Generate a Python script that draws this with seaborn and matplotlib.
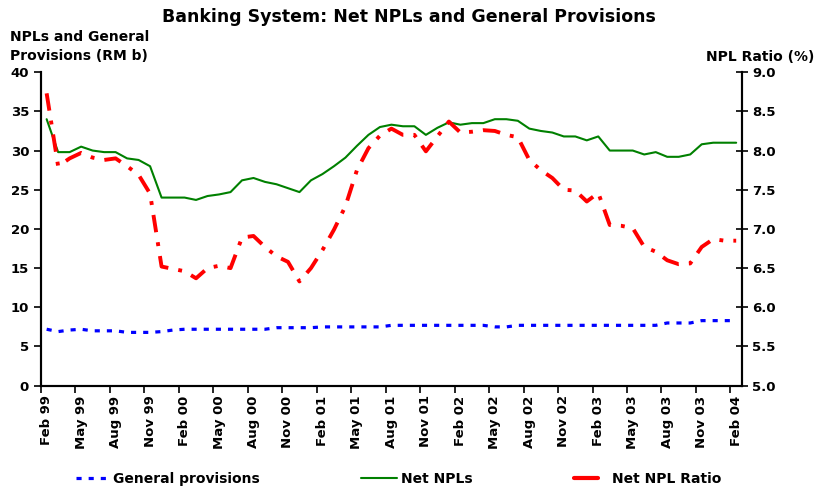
import numpy as np
import pandas as pd
import matplotlib
matplotlib.use("Agg")
import matplotlib.pyplot as plt
import seaborn as sns
from matplotlib.lines import Line2D

# 61 monthly categories Feb 99 .. Feb 04
tick_labels = ["Feb 99", "May 99", "Aug 99", "Nov 99", "Feb 00", "May 00", "Aug 00", "Nov 00",
               "Feb 01", "May 01", "Aug 01", "Nov 01", "Feb 02", "May 02", "Aug 02", "Nov 02",
               "Feb 03", "May 03", "Aug 03", "Nov 03", "Feb 04"]

net_npls = [34.0, 29.8, 29.8, 30.5, 30.0, 29.8, 29.8, 29.0, 28.8, 28.0,
            24.0, 24.0, 24.0, 23.7, 24.2, 24.4, 24.7, 26.2, 26.5, 26.0,
            25.7, 25.2, 24.7, 26.2, 27.0, 28.0, 29.1, 30.6, 32.0, 33.0,
            33.3, 33.1, 33.1, 32.0, 32.9, 33.6, 33.3, 33.5, 33.5, 34.0,
            34.0, 33.8, 32.8, 32.5, 32.3, 31.8, 31.8, 31.3, 31.8, 30.0,
            30.0, 30.0, 29.5, 29.8, 29.2, 29.2, 29.5, 30.8, 31.0, 31.0,
            31.0]

general_prov = [7.2, 6.9, 7.1, 7.2, 7.0, 7.0, 7.0, 6.8, 6.8, 6.8,
                6.9, 7.1, 7.2, 7.2, 7.2, 7.2, 7.2, 7.2, 7.2, 7.2,
                7.4, 7.4, 7.4, 7.4, 7.5, 7.5, 7.5, 7.5, 7.5, 7.5,
                7.7, 7.7, 7.7, 7.7, 7.7, 7.7, 7.7, 7.7, 7.7, 7.5,
                7.5, 7.7, 7.7, 7.7, 7.7, 7.7, 7.7, 7.7, 7.7, 7.7,
                7.7, 7.7, 7.7, 7.7, 8.0, 8.0, 8.0, 8.3, 8.3, 8.3,
                8.3]

npl_ratio = [8.73, 7.80, 7.90, 7.97, 7.91, 7.88, 7.90, 7.80, 7.69, 7.45,
             6.52, 6.49, 6.46, 6.37, 6.50, 6.53, 6.50, 6.89, 6.91, 6.77,
             6.65, 6.58, 6.33, 6.50, 6.73, 6.99, 7.29, 7.75, 8.03, 8.19,
             8.28, 8.20, 8.20, 7.99, 8.18, 8.37, 8.23, 8.24, 8.26, 8.25,
             8.20, 8.17, 7.88, 7.75, 7.65, 7.50, 7.49, 7.35, 7.46, 7.05,
             7.04, 7.01, 6.77, 6.71, 6.60, 6.55, 6.56, 6.77, 6.87, 6.85,
             6.85]

idx = np.arange(len(net_npls))
df = pd.DataFrame({"i": idx, "npl": net_npls, "gp": general_prov, "ratio": npl_ratio})

sns.set_style("white")
plt.rcParams["font.family"] = ["DejaVu Sans"]
plt.rcParams["font.weight"] = "bold"
for k in ("text.color", "axes.labelcolor", "xtick.color", "ytick.color"):
    plt.rcParams[k] = "black"

BLUE_LS = (0, (1.6, 2.2))
RED_LS = (0, (4.5, 2.6, 1.0, 2.6))

fig = plt.figure(figsize=(8.18, 4.91), dpi=100)
ax = fig.add_axes([0.050, 0.2145, 0.857, 0.6385])
ax2 = ax.twinx()

sns.lineplot(data=df, x="i", y="gp", ax=ax, color="#0000FF", linewidth=2.3,
             linestyle=BLUE_LS, dash_capstyle="butt")
sns.lineplot(data=df, x="i", y="npl", ax=ax, color="#008000", linewidth=1.5)
sns.lineplot(data=df, x="i", y="ratio", ax=ax2, color="#FF0000", linewidth=2.8,
             linestyle=RED_LS, dash_capstyle="butt")

ax.set_xlim(-0.5, 60.5)
ax.set_ylim(0, 40)
ax2.set_ylim(5.0, 9.0)
ax.set_yticks(np.arange(0, 41, 5))
ax2.set_yticks(np.arange(5.0, 9.01, 0.5))
ax2.set_yticklabels([f"{v:.1f}" for v in np.arange(5.0, 9.01, 0.5)])

# ticks at category boundaries, labels at category centres
ax.set_xticks(np.arange(0, 61, 3) - 0.5)
ax.set_xticklabels([])
ax.set_xticks(np.arange(0, 61, 3), minor=True)
ax.set_xticklabels(tick_labels, minor=True, rotation=90, fontsize=9.5, fontweight="bold")
ax.tick_params(axis="x", which="minor", length=0, pad=7)
ax.tick_params(axis="x", which="major", direction="out", length=5, width=1.2, color="black", bottom=True)
ax.tick_params(axis="y", direction="out", length=5, width=1.2, color="black", labelsize=9.5, left=True)
ax2.tick_params(axis="y", direction="inout", length=8, width=1.2, color="black", labelsize=9.5, right=True)
for lab in ax.get_yticklabels() + ax2.get_yticklabels():
    lab.set_fontweight("bold")

ax.set_xlabel("")
ax.set_ylabel("")
ax2.set_ylabel("")
for a in (ax, ax2):
    for s in a.spines.values():
        s.set_color("black")
        s.set_linewidth(1.5)
    a.spines["top"].set_visible(False)

fig.text(0.5, 1 - 17 / 491, "Banking System: Net NPLs and General Provisions", ha="center", va="center",
         fontsize=12.5, fontweight="bold")
fig.text(10 / 818, 1 - 37 / 491, "NPLs and General", ha="left", va="center",
         fontsize=10, fontweight="bold")
fig.text(10 / 818, 1 - 56 / 491, "Provisions (RM b)", ha="left", va="center",
         fontsize=10, fontweight="bold")
fig.text(814 / 818, 1 - 57 / 491, "NPL Ratio (%)", ha="right", va="center", fontsize=10, fontweight="bold")

legend_items = [
    (Line2D([], [], color="#0000FF", linewidth=2.3, linestyle=BLUE_LS), "General provisions", 76, 2.4, 0.25),
    (Line2D([], [], color="#008000", linewidth=1.5), "Net NPLs", 361, 2.6, 0.25),
    (Line2D([], [], color="#FF0000", linewidth=3.0), "Net NPL Ratio", 574, 1.7, 1.0),
]
for h, lab, xpix, hl, pad in legend_items:
    leg = fig.legend([h], [lab], loc="center left", bbox_to_anchor=(xpix / 818, 1 - 479 / 491),
                     frameon=False, prop={"weight": "bold", "size": 10}, handlelength=hl,
                     handletextpad=pad, borderpad=0, borderaxespad=0)

fig.savefig("out.png", dpi=100)
